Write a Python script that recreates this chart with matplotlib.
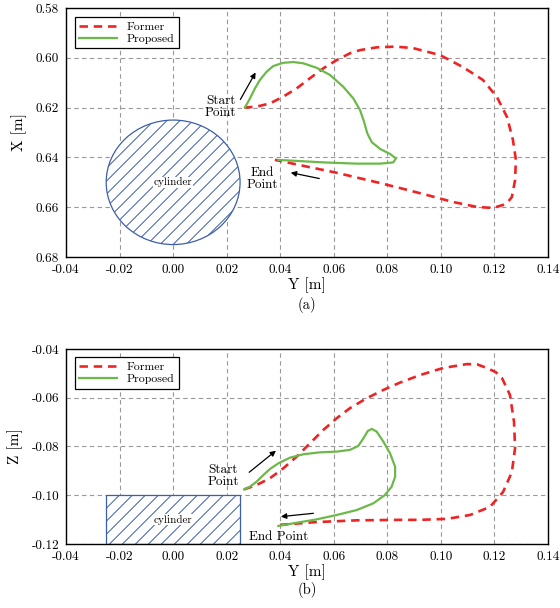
import numpy as np
import matplotlib.pyplot as plt
from matplotlib.patches import Ellipse, Rectangle

plt.rcParams['font.family'] = ['cmr10', 'DejaVu Serif']
plt.rcParams['axes.unicode_minus'] = False
plt.rcParams['mathtext.fontset'] = 'cm'

# ---- top view (Y-X plane) ----
former_xy_y = [0.0265, 0.0312, 0.0362, 0.0411, 0.0461, 0.0511, 0.0561, 0.0611, 0.0660, 0.0698,
               0.0760, 0.0830, 0.0896, 0.0997, 0.1082, 0.1157, 0.1209, 0.1247, 0.1269, 0.1280,
               0.1277, 0.1265, 0.1250, 0.1232, 0.1194, 0.1135, 0.1045, 0.0948, 0.0847, 0.0773,
               0.0612, 0.0500, 0.0399, 0.0380]
former_xy_x = [0.6200, 0.6196, 0.6183, 0.6156, 0.6123, 0.6082, 0.6042, 0.6009, 0.5982, 0.5969,
               0.5958, 0.5955, 0.5961, 0.5989, 0.6037, 0.6089, 0.6157, 0.6238, 0.6330, 0.6410,
               0.6491, 0.6559, 0.6579, 0.6591, 0.6603, 0.6599, 0.6579, 0.6551, 0.6523, 0.6503,
               0.6462, 0.6437, 0.6414, 0.6410]
proposed_xy_y = [0.0268, 0.0287, 0.0306, 0.0324, 0.0349, 0.0374, 0.0411, 0.0449, 0.0486, 0.0536,
                 0.0586, 0.0635, 0.0673, 0.0698, 0.0713, 0.0725, 0.0742, 0.0773, 0.0810, 0.0832,
                 0.0822, 0.0773, 0.0686, 0.0561, 0.0461, 0.0393]
proposed_xy_x = [0.6200, 0.6163, 0.6122, 0.6089, 0.6056, 0.6033, 0.6020, 0.6017, 0.6022, 0.6040,
                 0.6069, 0.6116, 0.6163, 0.6210, 0.6257, 0.6303, 0.6339, 0.6366, 0.6386, 0.6404,
                 0.6420, 0.6425, 0.6425, 0.6420, 0.6414, 0.6410]

# ---- side view (Y-Z plane) ----
former_yz_y = [0.0265, 0.0312, 0.0362, 0.0412, 0.0461, 0.0511, 0.0561, 0.0611, 0.0660, 0.0723,
               0.0785, 0.0847, 0.0922, 0.1008, 0.1097, 0.1135, 0.1172, 0.1205, 0.1228, 0.1258,
               0.1273, 0.1277, 0.1265, 0.1232, 0.1183, 0.1109, 0.1023, 0.0922, 0.0847, 0.0687,
               0.0537, 0.0392]
former_yz_z = [-0.0976, -0.0958, -0.0930, -0.0889, -0.0842, -0.0787, -0.0732, -0.0684, -0.0643, -0.0602,
               -0.0568, -0.0538, -0.0507, -0.0478, -0.0462, -0.0463, -0.0478, -0.0495, -0.0519, -0.0589,
               -0.0699, -0.0806, -0.0905, -0.0987, -0.1048, -0.1081, -0.1097, -0.1101, -0.1101, -0.1103,
               -0.1110, -0.1122]
proposed_yz_y = [0.0265, 0.0287, 0.0312, 0.0337, 0.0362, 0.0393, 0.0436, 0.0486, 0.0548, 0.0611,
                 0.0660, 0.0691, 0.0711, 0.0727, 0.0742, 0.0760, 0.0785, 0.0810, 0.0829, 0.0829,
                 0.0816, 0.0791, 0.0748, 0.0685, 0.0611, 0.0536, 0.0461, 0.0393]
proposed_yz_z = [-0.0976, -0.0965, -0.0944, -0.0917, -0.0892, -0.0869, -0.0846, -0.0832, -0.0824, -0.0821,
                 -0.0814, -0.0798, -0.0766, -0.0736, -0.0728, -0.0739, -0.0780, -0.0828, -0.0883, -0.0924,
                 -0.0965, -0.0999, -0.1033, -0.1061, -0.1081, -0.1099, -0.1113, -0.1126]

xticks = [-0.04, -0.02, 0.00, 0.02, 0.04, 0.06, 0.08, 0.10, 0.12, 0.14]
xticklabels = ['-0.04', '-0.02', '0.00', '0.02', '0.04', '0.06', '0.08', '0.10', '0.12', '0.14']
yticks_a = [0.58, 0.60, 0.62, 0.64, 0.66, 0.68]
yticklabels_a = ['0.58', '0.60', '0.62', '0.64', '0.66', '0.68']
yticks_b = [-0.04, -0.06, -0.08, -0.10, -0.12]
yticklabels_b = ['-0.04', '-0.06', '-0.08', '-0.10', '-0.12']

RED = '#ee2424'
GREEN = '#6cb94a'
BLUE = '#3d5ea8'

fig = plt.figure(figsize=(5.6, 6.08), dpi=100)
ax1 = fig.add_axes([0.1179, 0.5773, 0.8607, 0.4095])
ax2 = fig.add_axes([0.1179, 0.1053, 0.8607, 0.3207])


def style(ax, yticks, ylabels, ylim, ylabel):
    ax.set_xlim(-0.04, 0.14)
    ax.set_ylim(*ylim)
    ax.set_xticks(xticks)
    ax.set_xticklabels(xticklabels)
    ax.set_yticks(yticks)
    ax.set_yticklabels(ylabels)
    ax.tick_params(length=0, pad=5, labelsize=9.5)
    ax.grid(True, color='#999999', linestyle=(0, (4, 3)), linewidth=0.8)
    ax.set_axisbelow(True)
    for s in ax.spines.values():
        s.set_linewidth(1.0)
        s.set_zorder(6)
    ax.set_xlabel('Y [m]', fontsize=11, labelpad=1)
    ax.set_ylabel(ylabel, fontsize=11, labelpad=6)


def hatch(ax, patch, spacing_px=13):
    # 45 degree hatch lines clipped to the patch
    x0, x1 = ax.get_xlim()
    y0, y1 = ax.get_ylim()
    sx = ax.bbox.width / (x1 - x0)
    sy = ax.bbox.height / (y1 - y0)
    m = sx / sy
    step = spacing_px / sx
    xs = np.array([x0 - 0.3, x1 + 0.3])
    yc = (y0 + y1) / 2
    for c in np.arange(-0.4, 0.4, step):
        ln, = ax.plot(xs, yc + m * (xs - c), color=BLUE, linewidth=0.7, zorder=2)
        ln.set_clip_path(patch)


style(ax1, yticks_a, yticklabels_a, (0.68, 0.58), 'X [m]')
style(ax2, yticks_b, yticklabels_b, (-0.12, -0.04), 'Z [m]')

circ = Ellipse((0.0, 0.65), 0.05, 0.05, facecolor='white', edgecolor=BLUE, linewidth=0.9, zorder=2)
ax1.add_patch(circ)
hatch(ax1, circ)
ax1.text(0.0, 0.65, 'cylinder', ha='center', va='center', fontsize=8,
         zorder=4, bbox=dict(facecolor='white', edgecolor='none', pad=0.5))

rect = Rectangle((-0.025, -0.12), 0.05, 0.02, facecolor='white', edgecolor=BLUE, linewidth=0.9, zorder=2)
ax2.add_patch(rect)
hatch(ax2, rect)
ax2.text(0.0, -0.110, 'cylinder', ha='center', va='center', fontsize=8,
         zorder=4, bbox=dict(facecolor='white', edgecolor='none', pad=0.5))

for ax, fy, fz, py, pz in [(ax1, former_xy_y, former_xy_x, proposed_xy_y, proposed_xy_x),
                           (ax2, former_yz_y, former_yz_z, proposed_yz_y, proposed_yz_z)]:
    ax.plot(fy, fz, color=RED, linestyle=(0, (3.2, 2.2)), linewidth=1.9, label='Former', zorder=5)
    ax.plot(py, pz, color=GREEN, linewidth=1.6, label='Proposed', zorder=5)

leg_kw = dict(loc='upper left', fontsize=8.5, handlelength=3.2, fancybox=False,
              edgecolor='black', framealpha=1, borderaxespad=0, borderpad=0.4,
              labelspacing=0.15)
l1 = ax1.legend(bbox_to_anchor=(0.018, 0.965), **leg_kw)
l2 = ax2.legend(bbox_to_anchor=(0.018, 0.959), **leg_kw)
for l in (l1, l2):
    l.get_frame().set_linewidth(0.9)

arrow = dict(arrowstyle='-|>', color='black', lw=0.9, mutation_scale=8)
ax1.text(0.0177, 0.6198, 'Start\nPoint', ha='center', va='center', fontsize=9.5, linespacing=1.0)
ax1.annotate('', xy=(0.0313, 0.6049), xytext=(0.0246, 0.6177), arrowprops=arrow)
ax1.text(0.0332, 0.6487, 'End\nPoint', ha='center', va='center', fontsize=9.5, linespacing=1.0)
ax1.annotate('', xy=(0.0429, 0.6459), xytext=(0.0556, 0.6487), arrowprops=arrow)

ax2.text(0.0186, -0.0921, 'Start\nPoint', ha='center', va='center', fontsize=9.5, linespacing=1.0)
ax2.annotate('', xy=(0.0392, -0.0810), xytext=(0.0276, -0.0913), arrowprops=arrow)
ax2.text(0.0395, -0.1171, 'End Point', ha='center', va='center', fontsize=9.5)
ax2.annotate('', xy=(0.0392, -0.1089), xytext=(0.0534, -0.1073), arrowprops=arrow)

fig.text(0.548, 1 - 305 / 608, '(a)', ha='center', va='center', fontsize=10.5)
fig.text(0.548, 1 - 590 / 608, '(b)', ha='center', va='center', fontsize=10.5)

fig.savefig('out.png', dpi=100)
